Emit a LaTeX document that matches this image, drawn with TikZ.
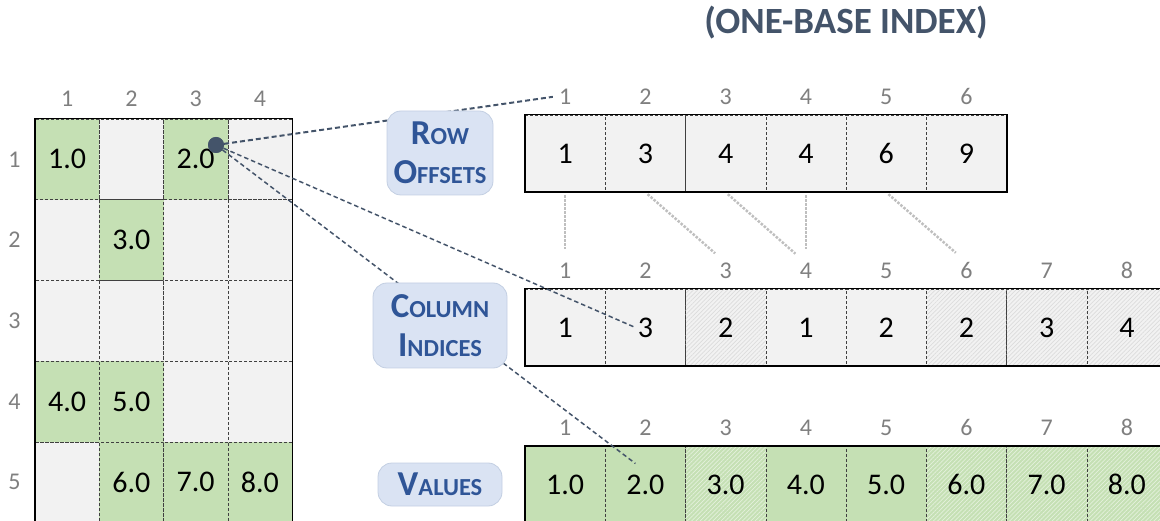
\documentclass[tikz,border=0pt]{standalone}
\usepackage{fontspec}
\setmainfont{Carlito}
\usepackage{tikz}
\usetikzlibrary{positioning,patterns.meta}
\definecolor{slate}{HTML}{44546A}
\definecolor{cellgray}{HTML}{F2F2F2}
\definecolor{hatchgray}{HTML}{DCDCDC}
\definecolor{nzgreen}{HTML}{C5E0B4}
\definecolor{hatchgreen}{HTML}{E4F1DC}
\definecolor{idxgray}{HTML}{7F7F7F}
\definecolor{tagfill}{HTML}{DAE3F3}
\definecolor{tagline}{HTML}{C3CFE2}
\definecolor{tagtext}{HTML}{2F5597}
\definecolor{ptrgray}{HTML}{BFBFBF}
\tikzset{
  mcell/.style={draw=black!75, densely dashed, line width=0.5pt, fill=cellgray, minimum width=64.25pt, minimum height=80.75pt, inner sep=0pt, font=\fontsize{30}{34}\selectfont},
  acell/.style={mcell, minimum width=80.25pt, minimum height=77pt},
  plain/.style={},
  nz/.style={fill=nzgreen},
  hgray/.style={preaction={fill=cellgray}, pattern={Lines[angle=45,distance=3pt,line width=0.7pt]}, pattern color=hatchgray},
  hgreen/.style={preaction={fill=nzgreen}, pattern={Lines[angle=45,distance=3pt,line width=0.7pt]}, pattern color=hatchgreen},
  frame/.style={draw=black, line width=1.5pt},
  idx/.style={text=idxgray, inner sep=0pt, font=\fontsize{24}{28}\selectfont},
  link/.style={draw=slate, dash pattern=on 4.5pt off 3pt, line width=1.5pt},
  ptr/.style={draw=ptrgray, line width=2.5pt, dash pattern=on 2.5pt off 1.5pt},
  tag/.style={rounded corners=14pt, fill=tagfill, draw=tagline, line width=0.8pt, text=tagtext, align=center, inner sep=0pt, font=\fontsize{35}{39}\selectfont\bfseries},
  pin/.style={circle, fill=slate, inner sep=0pt, minimum size=16pt},
  title/.style={text=slate, font=\fontsize{37}{42}\selectfont\bfseries}
}
\newcommand{\SmallCap}[2]{#1{\fontsize{24.5}{39}\selectfont #2}}
\newcommand{\CellRow}[4]{% name, top, count, style/value list
  \foreach \s/\v [count=\i] in {#4}
    \node[acell,\s] (#1-\i) at ({525+(\i-0.5)*80.25},{#2+38.5}) {\v};
  \foreach \i in {1,...,#3}
    \node[idx, above=10pt of #1-\i] (#1-h\i) {\i};
  \draw[frame] (#1-1.north west) rectangle (#1-#3.south east);
}
\begin{document}
\begin{tikzpicture}[x=1pt,y=-1pt]
  \useasboundingbox (0,0) rectangle (1160,521);
  \node[title] (title) at (846,23) {(ONE-BASE INDEX)};
  % sparse matrix
  \foreach \r in {1,...,5}
    \foreach \c in {1,...,4}
      \node[mcell] (m-\r-\c) at ({35+(\c-0.5)*64.25},{119+(\r-0.5)*80.75}) {};
  \foreach \r/\c/\v in {1/1/1.0,1/3/2.0,2/2/3.0,4/1/4.0,4/2/5.0,5/2/6.0,5/3/7.0,5/4/8.0}
    \node[mcell,nz] (nz-\r-\c) at (m-\r-\c) {\v};
  \foreach \c in {1,...,4}
    \node[idx, above=12pt of m-1-\c] (mh-\c) {\c};
  \foreach \r in {1,...,5}
    \node[idx, left=14pt of m-\r-1] (mr-\r) {\r};
  \draw[frame] (m-1-1.north west) rectangle (m-5-4.south east);
  % CSR arrays
  \CellRow{ro}{115}{6}{plain/1,plain/3,plain/4,plain/4,plain/6,plain/9}
  \CellRow{ci}{289}{8}{plain/1,plain/3,hgray/2,plain/1,plain/2,hgray/2,hgray/3,hgray/4}
  \CellRow{va}{446}{8}{nz/1.0,nz/2.0,hgreen/3.0,nz/4.0,nz/5.0,hgreen/6.0,hgreen/7.0,hgreen/8.0}
  \foreach \a/\b in {1/1,2/3,3/4,4/4,5/6}
    \draw[ptr, shorten <=3pt, shorten >=14pt] (ro-\a.south) -- (ci-h\b.north);
  % element (1,3)
  \node[pin] (pick) at (216,145) {};
  \draw[link, line width=2pt, dash pattern=on 5pt off 3pt] (pick) -- ([xshift=-6pt]ro-h1.west);
  \draw[link] (pick) -- ([xshift=-10pt]ci-2.center);
  \draw[link] (pick) -- ([xshift=-10pt,yshift=21pt]va-2.center);
  \node[pin] (pick-top) at (pick) {};
  % labels
  \node[tag, minimum width=106pt, minimum height=84pt] (tag-ro) at (440,153) {\SmallCap{R}{OW}\\\SmallCap{O}{FFSETS}};
  \node[tag, minimum width=134pt, minimum height=85pt] (tag-ci) at (440,325.5) {\SmallCap{C}{OLUMN}\\\SmallCap{I}{NDICES}};
  \node[tag, minimum width=124pt, minimum height=43pt] (tag-va) at (440,484.5) {\SmallCap{V}{ALUES}};
\end{tikzpicture}
\end{document}
